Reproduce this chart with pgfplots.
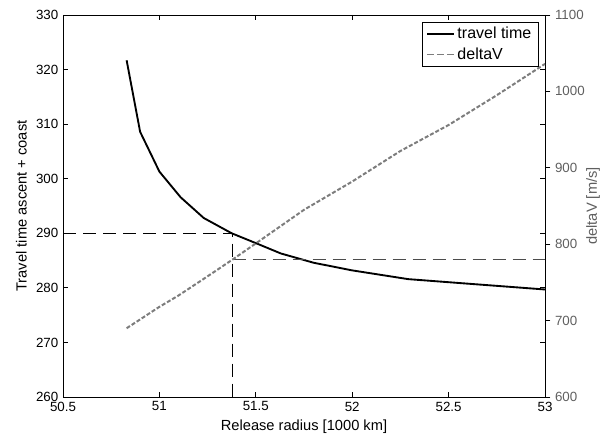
\documentclass[border=0pt]{standalone}
\usepackage{fontspec}
\setmainfont{Liberation Sans}
\usepackage{pgfplots}
\pgfplotsset{compat=1.18}
\definecolor{dvgray}{RGB}{125,125,125}
\definecolor{axgray}{RGB}{95,95,95}

\begin{document}
\begin{tikzpicture}
\pgfplotsset{
  myaxis/.style={
    scale only axis,
    width=361.5pt, height=286.5pt,
    xmin=50.5, xmax=53,
    tick style={line width=0.6pt, black, major tick length=4pt},
    axis line style={line width=0.7pt},
    tick label style={font=\fontsize{10}{12}\selectfont},
    label style={font=\fontsize{11}{13}\selectfont},
    /pgf/number format/assume math mode=true,
    /pgf/number format/fixed,
    /pgf/number format/1000 sep={},
  },
}
% left axis: travel time
\begin{axis}[
  myaxis,
  name=main,
  tick align=inside,
  ymin=260, ymax=330,
  xtick={50.5,51,51.5,52,52.5,53},
  ytick={260,270,280,290,300,310,320,330},
  tick pos=both,
  xlabel={Release radius [1000 km]},
  ylabel={Travel time ascent + coast},
]
\addplot[black, line width=0.6pt, dash pattern=on 10pt off 5pt] coordinates {
  (50.5,290) (51.38,290) (51.38,260)};
\addplot[black, line width=1.4pt] coordinates {
  (50.83,321.7) (50.90,308.6) (51.00,301.3) (51.11,296.6) (51.23,292.8)
  (51.375,290.0) (51.50,288.2) (51.63,286.3) (51.80,284.6) (52.00,283.2)
  (52.29,281.6) (52.55,280.9) (53.00,279.7)};
\end{axis}
% right axis: deltaV
\begin{axis}[
  myaxis,
  tick align=outside,
  ymin=600, ymax=1100,
  axis x line=none,
  axis y line*=right,
  ytick={600,700,800,900,1000,1100},
  yticklabel style={text=axgray},
  ylabel={deltaV [m/s]},
  ylabel style={text=axgray, at={(axis description cs:1.0996,0.5)}, anchor=center},
  legend style={at={(1,1)}, anchor=north east, xshift=-5pt, yshift=-5.5pt,
    draw=black, line width=0.6pt, font=\fontsize{12}{14}\selectfont,
    inner xsep=3pt, inner ysep=1.5pt, row sep=1pt},
  legend cell align=left,
  legend image code/.code={\draw[#1] (0cm,0cm) -- (0.7cm,0cm);},
]
\addplot[black!70, line width=0.6pt, dash pattern=on 10pt off 5pt, forget plot] coordinates {
  (51.38,780) (53,780)};
\addplot[dvgray, line width=1.5pt, dash pattern=on 3pt off 1.5pt, forget plot] coordinates {
  (50.83,690) (51.00,718) (51.10,733) (51.25,758) (51.38,780) (51.50,801)
  (51.75,845) (52.00,882) (52.25,922) (52.50,956) (52.75,995) (53.00,1036)};
\addlegendimage{black, line width=1.4pt}
\addlegendentry{travel time}
\addlegendimage{dvgray, line width=1.2pt, dash pattern=on 5pt off 2.5pt}
\addlegendentry{deltaV}
\end{axis}
\pgfresetboundingbox
\path ([shift={(-47.25pt,-32.25pt)}]main.south west) rectangle ([shift={(45pt,11.25pt)}]main.north east);
\end{tikzpicture}
\end{document}
